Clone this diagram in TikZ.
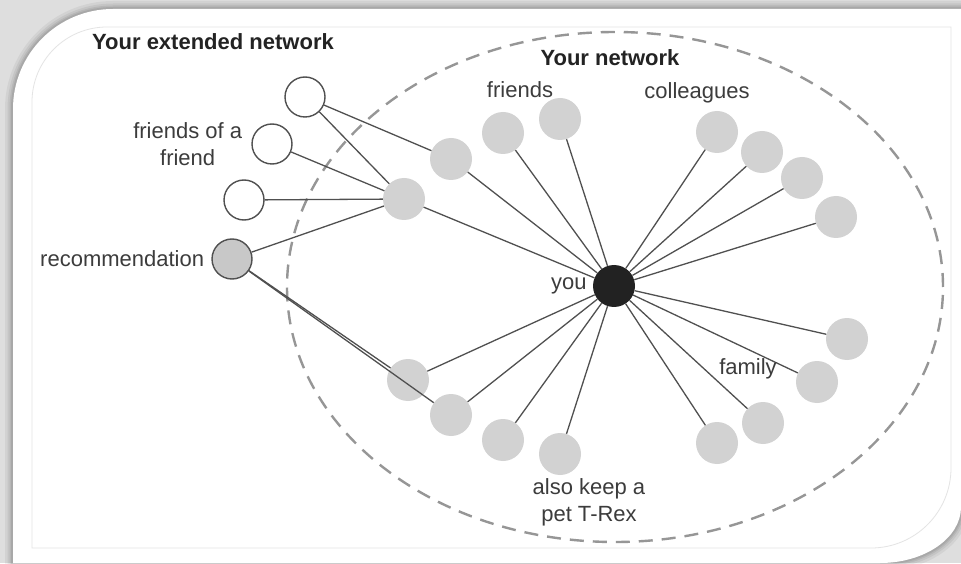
\documentclass[tikz,border=0pt]{standalone}
\usepackage{fontspec}
\setmainfont{Liberation Sans}
\usetikzlibrary{positioning}
\begin{document}
\begin{tikzpicture}[x=1pt,y=1pt,
  member/.style={circle,fill=membercolor,minimum size=42pt,inner sep=0pt},
  outer/.style={circle,draw=linecolor,line width=1.4pt,fill=white,minimum size=40pt,inner sep=0pt},
  link/.style={linecolor,line width=1.3pt},
  lbl/.style={text=textcolor,font=\fontsize{22}{27}\selectfont,inner sep=0pt},
  title/.style={text=titlecolor,font=\fontsize{22}{27}\selectfont\bfseries,inner sep=0pt}]
  % Define colors
  \definecolor{membercolor}{RGB}{210,210,210}
  \definecolor{youcolor}{RGB}{34,34,34}
  \definecolor{linecolor}{RGB}{80,80,80}
  \definecolor{reccolor}{RGB}{200,200,200}
  \definecolor{ringcolor}{RGB}{150,150,150}
  \definecolor{textcolor}{RGB}{60,60,60}
  \definecolor{titlecolor}{RGB}{35,35,35}
  \definecolor{shadecolor}{RGB}{222,222,222}
  \definecolor{framecolor}{RGB}{228,228,228}

  \useasboundingbox (0,0) rectangle (961,563);

  % Card with shadow
  \fill[shadecolor] (0,0) rectangle (961,563);
  \foreach \w/\o in {16/0.05,11/0.06,7/0.07,4/0.08} {
    \draw[black,opacity=\o,line width=\w pt]
      (13,0) -- (13,454) arc[start angle=180,end angle=90,radius=100] -- (961,554)
      -- (961,56) arc[start angle=0,end angle=-90,x radius=81,y radius=56] -- cycle;
  }
  \fill[white]
    (13,0) -- (13,454) arc[start angle=180,end angle=90,radius=100] -- (961,554)
    -- (961,56) arc[start angle=0,end angle=-90,x radius=81,y radius=56] -- cycle;
  \draw[framecolor,line width=0.8pt]
    (32,15) -- (32,461) arc[start angle=180,end angle=90,radius=75] -- (951,536)
    -- (951,95) arc[start angle=0,end angle=-90,radius=80] -- cycle;

  % Your network (dashed ring)
  \draw[ringcolor,line width=2.4pt,dash pattern=on 14pt off 9pt]
    (615,276) ellipse[x radius=328,y radius=255];

  % You
  \node[member,fill=youcolor] (you) at (614,277) {};

  % Members of your network
  \foreach \n/\x/\y in {friend1/451/404,friend2/404/364,friend3/503/430,friend4/560/444,
      colleague1/717/431,colleague2/762/411,colleague3/802/385,colleague4/836/346,
      family1/847/224,family2/817/181,family3/763/140,family4/717/120,
      trex1/408/183,trex2/451/148,trex3/503/123,trex4/560/109} {
    \node[member] (\n) at (\x,\y) {};
    \draw[link] (you) -- (\n);
  }

  % Extended network
  \foreach \n/\x/\y in {ext1/305/466,ext2/272/419,ext3/244/363} {
    \node[outer] (\n) at (\x,\y) {};
  }
  \node[outer,fill=reccolor] (rec) at (232,304) {};

  % Connections to the extended network
  \foreach \a/\b in {ext1/friend1,ext1/friend2,ext2/friend2,ext3/friend2,
      rec/friend2,rec/trex1,rec/trex2} {
    \draw[link] (\a) -- (\b);
  }

  % Labels
  \node[title] (exttitle) at (213,521) {Your extended network};
  \node[title] (nettitle) at (610,505) {Your network};
  \node[lbl] (friendslabel) at (520,473) {friends};
  \node[lbl] (colleagueslabel) at (697,470) {colleagues};
  \node[lbl,left=6pt of you] (youlabel) {you};
  \node[lbl,align=center,left=9pt of ext2] (foaflabel) {friends of a\\friend};
  \node[lbl,left=7pt of rec] (reclabel) {recommendation};
  \node[lbl] (familylabel) at (748,194) {family};
  \node[lbl,align=center] (trexlabel) at (589,61) {also keep a\\pet T-Rex};

\end{tikzpicture}
\end{document}
